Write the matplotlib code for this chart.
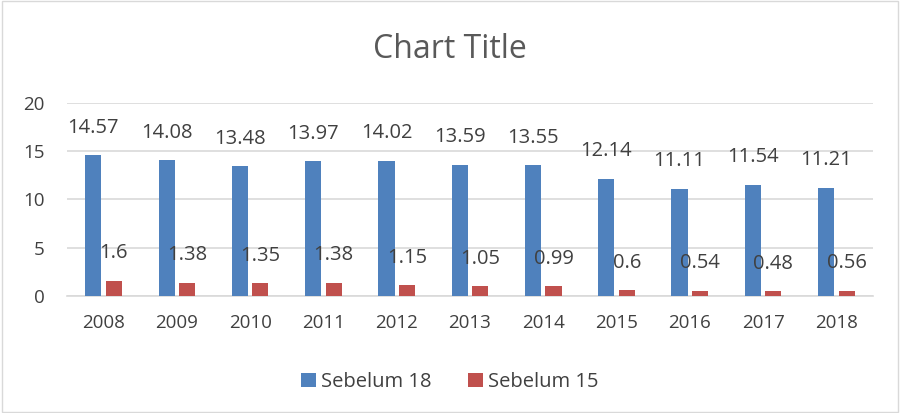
import numpy as np
import matplotlib.pyplot as plt

plt.rcParams['font.family'] = ['Open Sans', 'DejaVu Sans']

years = ['2008', '2009', '2010', '2011', '2012', '2013', '2014', '2015', '2016', '2017', '2018']
sebelum18 = [14.57, 14.08, 13.48, 13.97, 14.02, 13.59, 13.55, 12.14, 11.11, 11.54, 11.21]
sebelum15 = [1.6, 1.38, 1.35, 1.38, 1.15, 1.05, 0.99, 0.6, 0.54, 0.48, 0.56]

blue = '#4F81BD'
red = '#C0504D'
txt = '#404040'

fig = plt.figure(figsize=(9, 4.13), dpi=100)
ax = fig.add_axes([0.0744, 0.2833, 0.8956, 0.4673])

x = np.arange(len(years))
w = 0.22
b1 = ax.bar(x - 0.14, sebelum18, w, color=blue, label='Sebelum 18', zorder=3)
b2 = ax.bar(x + 0.14, sebelum15, w, color=red, label='Sebelum 15', zorder=3)

for bars, vals in [(b1, sebelum18), (b2, sebelum15)]:
    for r, v in zip(bars, vals):
        ax.annotate(f'{v:g}', (r.get_x() + r.get_width() / 2, v),
                    xytext=(0, 12.5), textcoords='offset points',
                    ha='center', va='bottom', fontsize=14.5, color=txt)

ax.set_xlim(-0.5, len(years) - 0.5)
ax.set_ylim(0, 20)
ax.set_yticks([0, 5, 10, 15, 20])
ax.set_xticks(x)
ax.set_xticklabels(years)
ax.tick_params(axis='both', length=0, labelsize=13.5, labelcolor=txt)
ax.tick_params(axis='x', pad=13)
ax.tick_params(axis='y', pad=16)
ax.grid(axis='y', color='#D9D9D9', linewidth=1.2, zorder=0)
for s in ['top', 'right', 'left']:
    ax.spines[s].set_visible(False)
ax.spines['bottom'].set_color('#D9D9D9')
ax.spines['bottom'].set_linewidth(1.2)

fig.text(0.5, 0.88, 'Chart Title', ha='center', va='center', fontsize=23, color='#595959')

fig.legend(loc='center', bbox_to_anchor=(0.5, 0.075), ncol=2, frameon=False,
           fontsize=14.5, handlelength=0.75, handleheight=0.75, columnspacing=1.8,
           handletextpad=0.25, labelcolor=txt)

fig.patches.append(plt.Rectangle((0.002, 0.003), 0.996, 0.994, transform=fig.transFigure,
                                 fill=False, edgecolor='#D9D9D9', linewidth=1))

plt.savefig('out.png')
